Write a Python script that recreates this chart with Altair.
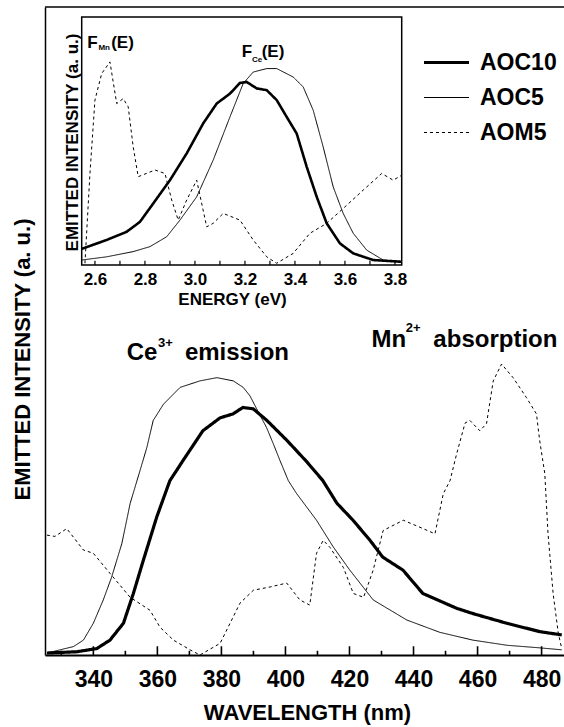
import altair as alt
import pandas as pd

FONT = "Liberation Sans"
SERIES = ["AOC10", "AOC5", "AOM5"]

# ---------------- main panel (wavelength, nm) ----------------
wl_aoc10 = [325.5, 334.8, 341.1, 345.2, 349.4, 352.5, 355.6, 359.8, 363.9, 368.0, 374.2, 379.6,
            383.6, 386.7, 389.9, 394.2, 400.5, 406.7, 411.7, 416.1, 421.1, 426.4, 430.4, 436.7,
            442.9, 453.5, 458.5, 469.1, 479.5, 486.3]
int_aoc10 = [0.3, 0.5, 1.0, 2.3, 4.9, 9.5, 14.6, 21.3, 26.9, 30.0, 34.6, 36.6,
             37.2, 38.2, 38.0, 36.2, 33.1, 29.8, 26.9, 23.4, 20.8, 17.7, 15.1, 13.1,
             9.5, 7.2, 6.4, 4.9, 3.6, 3.1]

wl_aoc5 = [325.5, 333.8, 336.9, 340.0, 343.1, 345.7, 348.9, 351.5, 354.6, 356.7, 358.7, 361.9,
           367.1, 373.3, 378.6, 383.7, 386.8, 388.9, 391.0, 394.1, 396.2, 398.3, 400.9, 403.5,
           409.7, 414.9, 420.1, 427.4, 437.9, 448.2, 458.5, 469.2, 479.5, 486.3]
int_aoc5 = [0.3, 1.3, 2.3, 4.9, 8.5, 12.0, 17.2, 23.4, 28.5, 32.0, 36.2, 38.7,
            41.3, 42.3, 42.8, 42.3, 41.3, 40.0, 38.0, 35.1, 32.6, 30.0, 26.9, 24.9,
            20.8, 16.7, 13.1, 8.5, 5.4, 3.5, 2.3, 1.5, 1.1, 0.8]

wl_aom5 = [325.5, 328.0, 331.7, 336.9, 340.0, 345.2, 351.5, 357.7, 360.8, 365.0, 370.2, 373.3,
           379.6, 385.8, 390.0, 395.2, 400.4, 404.5, 407.6, 409.7, 411.8, 413.9, 418.1, 421.2,
           424.4, 427.4, 430.5, 436.8, 443.0, 446.7, 449.3, 451.4, 453.5, 456.1, 457.6, 460.7,
           462.8, 464.9, 467.5, 471.1, 475.3, 478.4, 479.4, 481.0, 482.0, 483.6, 485.2, 486.2]
int_aom5 = [18.5, 18.3, 19.5, 16.2, 15.7, 12.6, 8.9, 6.9, 4.3, 2.3, 0.8, 0.0,
            1.8, 8.0, 10.0, 10.5, 11.1, 8.5, 7.7, 15.7, 17.7, 16.6, 13.5, 9.5,
            8.9, 13.1, 19.2, 20.8, 19.5, 18.7, 24.9, 26.9, 31.1, 35.8, 36.2, 34.6,
            35.7, 42.3, 44.9, 42.8, 39.7, 37.2, 33.1, 28.0, 18.8, 9.5, 3.4, 1.2]

# ---------------- inset (energy, eV) ----------------
e_aoc10 = [2.547, 2.647, 2.727, 2.78, 2.833, 2.9, 2.967, 3.033, 3.087, 3.14, 3.18, 3.207,
           3.247, 3.287, 3.327, 3.367, 3.407, 3.447, 3.487, 3.527, 3.58, 3.633, 3.713, 3.827]
v_aoc10 = [6.5, 10.1, 13.4, 17.4, 24.8, 34.2, 45.0, 57.1, 65.1, 69.1, 73.4, 73.8,
           71.2, 70.5, 66.5, 59.7, 53.0, 39.6, 27.5, 16.8, 8.7, 4.7, 2.0, 1.3]

e_aoc5 = [2.547, 2.647, 2.753, 2.82, 2.887, 2.94, 3.007, 3.073, 3.14, 3.193, 3.233, 3.287,
          3.327, 3.393, 3.433, 3.473, 3.513, 3.553, 3.593, 3.633, 3.687, 3.753, 3.827]
v_aoc5 = [2.0, 3.3, 5.4, 7.4, 11.4, 18.1, 27.5, 42.3, 59.7, 73.2, 77.8, 79.2,
          79.2, 75.8, 71.8, 62.4, 47.6, 31.5, 20.8, 12.8, 6.0, 2.0, 1.3]

e_aom5 = [2.56, 2.58, 2.6, 2.627, 2.66, 2.687, 2.713, 2.733, 2.753, 2.773, 2.84, 2.88,
          2.907, 2.933, 2.967, 3.007, 3.047, 3.073, 3.113, 3.18, 3.233, 3.287, 3.327, 3.393,
          3.46, 3.527, 3.593, 3.673, 3.747, 3.793, 3.827]
v_aom5 = [0.7, 36.9, 66.5, 77.2, 81.9, 65.1, 67.1, 63.8, 47.6, 35.6, 38.3, 36.9,
          26.2, 18.1, 26.2, 34.2, 15.4, 16.8, 20.8, 18.1, 10.1, 3.3, 0.7, 4.7,
          12.8, 16.8, 22.8, 30.2, 36.9, 34.2, 36.2]

# axis values / annotations
main_major_ticks = [340.0, 360.0, 380.0, 400.0, 420.0, 440.0, 460.0, 480.0]
main_minor_ticks = [330.0, 350.0, 370.0, 390.0, 410.0, 430.0, 450.0, 470.0]
inset_ticks = [2.6, 2.7, 2.8, 2.9, 3.0, 3.1, 3.2, 3.3, 3.4, 3.5, 3.6, 3.7, 3.8]
inset_labels = [2.6, 2.8, 3.0, 3.2, 3.4, 3.6, 3.8]

main_ann_text = ["Ce", "3+", "emission", "Mn", "2+", "absorption"]
main_ann_x = [350.4, 360.2, 368.6, 426.9, 437.6, 446.2]
main_ann_y = [45.5, 47.5, 45.5, 47.6, 49.8, 47.6]
main_ann_size = [24, 13, 24, 24, 13, 24]

ins_ann_text = ["F", "Mn", "(E)", "F", "Ce", "(E)"]
ins_ann_x = [2.569, 2.614, 2.665, 3.187, 3.228, 3.267]
ins_ann_y = [87.3, 86.6, 87.3, 83.9, 81.9, 83.9]
ins_ann_size = [17, 8, 17, 17, 8, 17]

X_MAIN = [324.9, 487.0]
Y_MAIN = [0.0, 100.0]
X_INS = [2.547, 3.827]
Y_INS = [0.0, 100.0]

W, H = 519, 648

# ---------------- tables ----------------
main_df = pd.concat([
    pd.DataFrame({"x": wl_aoc10, "v": int_aoc10, "series": "AOC10", "w": 3.2}),
    pd.DataFrame({"x": wl_aoc5, "v": int_aoc5, "series": "AOC5", "w": 1.0}),
    pd.DataFrame({"x": wl_aom5, "v": int_aom5, "series": "AOM5", "w": 1.0}),
])
ins_df = pd.concat([
    pd.DataFrame({"x": e_aoc10, "v": v_aoc10, "series": "AOC10", "w": 2.6}),
    pd.DataFrame({"x": e_aoc5, "v": v_aoc5, "series": "AOC5", "w": 1.0}),
    pd.DataFrame({"x": e_aom5, "v": v_aom5, "series": "AOM5", "w": 1.0}),
])

# segments: top border of the main frame plus the inward tick marks
seg_rows = [{"x": X_MAIN[0], "x2": X_MAIN[1], "v": Y_MAIN[1], "v2": Y_MAIN[1]}]
seg_rows += [{"x": t, "x2": t, "v": 0.0, "v2": 1.35} for t in main_major_ticks]
seg_rows += [{"x": t, "x2": t, "v": 0.0, "v2": 0.65} for t in main_minor_ticks]
main_seg_df = pd.DataFrame(seg_rows)

ins_seg_df = pd.DataFrame([{"x": t, "x2": t, "v": 0.0, "v2": 1.7} for t in inset_ticks])

main_ann_df = pd.DataFrame({"x": main_ann_x, "v": main_ann_y, "t": main_ann_text, "s": main_ann_size})
ins_frame_df = pd.DataFrame({"x": [X_INS[0]], "x2": [X_INS[1]], "v": [Y_INS[0]], "v2": [Y_INS[1]]})
ins_ann_df = pd.DataFrame({"x": ins_ann_x, "v": ins_ann_y, "t": ins_ann_text, "s": ins_ann_size})

# ---------------- scales & axes ----------------
sx_main = alt.Scale(domain=X_MAIN, nice=False, zero=False)
sy_main = alt.Scale(domain=Y_MAIN, nice=False, zero=False)
sx_ins = alt.Scale(domain=X_INS, range=[36.7, 356.7], nice=False, zero=False)
sy_ins = alt.Scale(domain=Y_INS, range=[258, 10], nice=False, zero=False)

ax_main_x = alt.Axis(
    orient="bottom", values=[340, 360, 380, 400, 420, 440, 460, 480], format="d",
    ticks=False, grid=False, domainColor="black", domainWidth=2,
    labelFont=FONT, labelFontWeight="bold", labelFontSize=23, labelColor="black",
    labelPadding=13,
    title="WAVELENGTH (nm)", titleFont=FONT, titleFontWeight="bold", titleFontSize=22,
    titleColor="black", titleX=262, titleY=47, titleBaseline="top", titleAlign="center")
ax_main_y = alt.Axis(
    orient="left", labels=False, ticks=False, grid=False, domainColor="black", domainWidth=1.5,
    title="EMITTED INTENSITY (a. u.)", titleFont=FONT, titleFontWeight="bold",
    titleFontSize=22, titleColor="black", titleX=-23, titleY=352, titleAngle=270,
    titleBaseline="middle", titleAlign="center")
ax_ins_x = alt.Axis(
    orient="bottom", offset=-390, values=inset_labels, format=".1f", ticks=False,
    domain=False, grid=False,
    labelFont=FONT, labelFontWeight="bold", labelFontSize=17, labelColor="black",
    labelPadding=6,
    title="ENERGY (eV)", titleFont=FONT, titleFontWeight="bold", titleFontSize=17,
    titleColor="black", titleX=187, titleY=26, titleBaseline="top", titleAlign="center")
ax_ins_y = alt.Axis(
    orient="left", offset=-36.7, labels=False, ticks=False, domain=False, grid=False,
    title="EMITTED INTENSITY (a. u.)", titleFont=FONT, titleFontWeight="bold",
    titleFontSize=17, titleColor="black", titleX=-9.7, titleY=135, titleAngle=270,
    titleBaseline="middle", titleAlign="center")

legend = alt.Legend(
    title=None, orient="none", legendX=390, legendY=44,
    symbolType="stroke", symbolSize=2025, symbolStrokeColor="black",
    symbolStrokeWidth={"expr": "datum.value === 'AOC10' ? 3 : 1"},
    labelFont=FONT, labelFontWeight="bold", labelFontSize=23, labelColor="black",
    labelOffset=22, rowPadding=11, padding=0,
)
dash = alt.StrokeDash("series:N", scale=alt.Scale(domain=SERIES, range=[[1, 0], [1, 0], [3, 3]]),
                      legend=legend)

MX = alt.X("x:Q", scale=sx_main, axis=ax_main_x)
MY = alt.Y("v:Q", scale=sy_main, axis=ax_main_y)
IX = alt.X("x:Q", scale=sx_ins, axis=ax_ins_x)
IY = alt.Y("v:Q", scale=sy_ins, axis=ax_ins_y)

# ---------------- main layers ----------------
main_lines = alt.Chart(main_df).mark_line(color="black").encode(
    x=MX, y=MY,
    strokeDash=dash,
    strokeWidth=alt.StrokeWidth("w:Q", scale=None),
    detail="series:N",
)

main_seg = alt.Chart(main_seg_df).mark_rule(color="black", strokeWidth=1.6).encode(
    x=MX, x2="x2:Q", y=MY, y2="v2:Q",
)

main_text = alt.Chart(main_ann_df).mark_text(
    align="left", baseline="alphabetic", font=FONT, fontWeight="bold", color="black"
).encode(
    x=MX, y=MY, text="t:N", size=alt.Size("s:Q", scale=None),
)

main = alt.layer(main_lines, main_seg, main_text)

# ---------------- inset layers ----------------
ins_frame = alt.Chart(ins_frame_df).mark_rect(
    fillOpacity=0, stroke="black", strokeWidth=1.5
).encode(
    x=IX, x2="x2:Q", y=IY, y2="v2:Q",
)

ins_seg = alt.Chart(ins_seg_df).mark_rule(color="black", strokeWidth=1.2).encode(
    x=IX, x2="x2:Q", y=IY, y2="v2:Q",
)

ins_lines = alt.Chart(ins_df).mark_line(color="black").encode(
    x=IX, y=IY,
    strokeDash=dash,
    strokeWidth=alt.StrokeWidth("w:Q", scale=None),
    detail="series:N",
)

ins_text = alt.Chart(ins_ann_df).mark_text(
    align="left", baseline="alphabetic", font=FONT, fontWeight="bold", color="black"
).encode(
    x=IX, y=IY, text="t:N", size=alt.Size("s:Q", scale=None),
)

inset = alt.layer(ins_frame, ins_seg, ins_lines, ins_text)

chart = alt.layer(main, inset).resolve_scale(
    x="independent", y="independent"
).properties(
    width=W, height=H,
    padding={"left": 45, "top": 7, "right": 0, "bottom": 72},
    autosize=alt.AutoSizeParams(type="none"),
    background="white",
).configure_view(stroke=None)

chart.save("out.html", embed_options={"renderer": "svg", "actions": False})
